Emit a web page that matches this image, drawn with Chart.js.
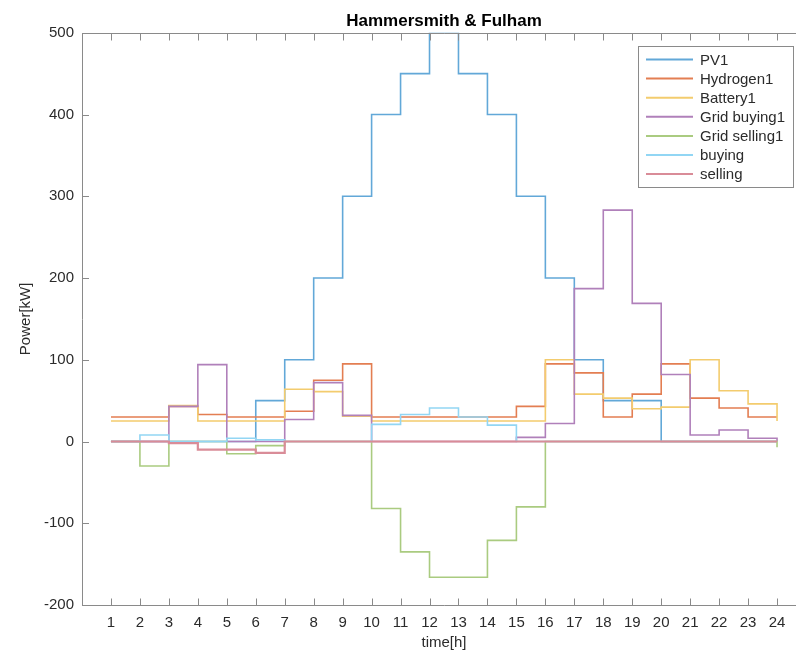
<!DOCTYPE html>
<html>
<head>
<meta charset="utf-8">
<title>Hammersmith & Fulham</title>
<script src="https://cdn.jsdelivr.net/npm/chart.js@4.4.1/dist/chart.umd.min.js"></script>
<style>
    html, body { margin: 0; padding: 0; background: #ffffff; overflow: hidden; }
    #wrap { position: relative; width: 812px; height: 654px; }
</style>
</head>
<body>
<div id="wrap"><canvas id="power-chart"></canvas></div>
<script>
// Hourly power per source, drawn as stairs
const hours = [1, 2, 3, 4, 5, 6, 7, 8, 9, 10, 11, 12, 13, 14, 15, 16, 17, 18, 19, 20, 21, 22, 23, 24];

const pv1         = [0, 0, 0, 0, 0, 50, 100, 200, 300, 400, 450, 500, 450, 400, 300, 200, 100, 50, 50, 0, 0, 0, 0, 0];
const hydrogen1   = [30, 30, 43, 33, 30, 30, 37, 75, 95, 30, 30, 30, 30, 30, 43, 95, 84, 30, 58, 95, 53, 41, 30, 30];
const battery1    = [25, 25, 44, 25, 25, 25, 64, 61, 31, 25, 25, 25, 25, 25, 25, 100, 58, 53, 40, 42, 100, 62, 46, 25];
const gridBuying1 = [0, 0, 43, 94, 0, 0, 27, 72, 32, 0, 0, 0, 0, 0, 5, 22, 187, 283, 169, 82, 8, 14, 4, 0];
const gridSelling1 = [0, -30, 0, 0, -15, -5, 0, 0, 0, -82, -135, -166, -166, -121, -80, 0, 0, 0, 0, 0, 0, 0, 0, -7];
const buying      = [0, 8, 0, 0, 4, 2, 0, 0, 0, 21, 33, 41, 30, 20, 0, 0, 0, 0, 0, 0, 0, 0, 0, 0];
const selling     = [0, 0, -2, -10, -10, -14, 0, 0, 0, 0, 0, 0, 0, 0, 0, 0, 0, 0, 0, 0, 0, 0, 0, 0];

const seriesLabels = ['PV1', 'Hydrogen1', 'Battery1', 'Grid buying1', 'Grid selling1', 'buying', 'selling'];
const seriesValues = [pv1, hydrogen1, battery1, gridBuying1, gridSelling1, buying, selling];
// default MATLAB line order, washed out a little
const seriesColors = ['#62a8d8', '#e37e52', '#f3cc6e', '#b080ba', '#aacb80', '#92d6f4', '#d98c98'];
const seriesWidths = [1.6, 1.6, 1.6, 1.6, 1.6, 1.6, 2.2];

const xTicks = hours;
const yTicks = [-200, -100, 0, 100, 200, 300, 400, 500];

const axisColor = '#8a8a8a';
const textColor = '#2b2b2b';
const fontFamily = '"Liberation Sans", Arial, Helvetica, sans-serif';

// Build the datasets; later series are drawn on top, like stairs() does
const datasets = seriesLabels.map(function(label, i) {
    return {
        label: label,
        data: hours.map(function(h, k) { return { x: h, y: seriesValues[i][k] }; }),
        borderColor: seriesColors[i],
        backgroundColor: seriesColors[i],
        borderWidth: seriesWidths[i],
        pointRadius: 0,
        stepped: 'before',
        fill: false,
        order: seriesLabels.length - i
    };
});

// Box with inward ticks, title and legend inside the plot
const axesPlugin = {
    id: 'axesBox',
    afterDraw: function(chart) {
        const ctx = chart.ctx;
        const area = chart.chartArea;
        const xs = chart.scales.x;
        const ys = chart.scales.y;
        const tickLen = 7;
        const top = Math.round(area.top) + 0.5;
        const bottom = Math.round(area.bottom) + 0.5;

        ctx.save();
        ctx.strokeStyle = axisColor;
        ctx.lineWidth = 1;
        ctx.beginPath();
        ctx.moveTo(area.right, top);
        ctx.lineTo(area.left + 0.5, top);
        ctx.lineTo(area.left + 0.5, bottom);
        ctx.lineTo(area.right, bottom);
        xTicks.forEach(function(t) {
            const px = Math.round(xs.getPixelForValue(t)) + 0.5;
            ctx.moveTo(px, bottom);
            ctx.lineTo(px, bottom - tickLen);
            ctx.moveTo(px, top);
            ctx.lineTo(px, top + tickLen);
        });
        yTicks.forEach(function(t) {
            const py = Math.round(ys.getPixelForValue(t)) + 0.5;
            ctx.moveTo(area.left, py);
            ctx.lineTo(area.left + tickLen, py);
        });
        ctx.stroke();

        // title over the plot box
        ctx.fillStyle = '#000000';
        ctx.font = 'bold 17px ' + fontFamily;
        ctx.textAlign = 'center';
        ctx.textBaseline = 'middle';
        ctx.fillText('Hammersmith & Fulham', (area.left + area.right) / 2, 21);

        // legend, top right
        const lx = 638, ly = 46, lw = 155, lh = 141;
        ctx.fillStyle = '#ffffff';
        ctx.fillRect(lx, ly, lw, lh);
        ctx.strokeStyle = axisColor;
        ctx.strokeRect(lx + 0.5, ly + 0.5, lw, lh);
        ctx.font = '15px ' + fontFamily;
        ctx.textAlign = 'left';
        chart.data.datasets.forEach(function(ds, i) {
            const y = 59.5 + i * 19.1;
            ctx.strokeStyle = ds.borderColor;
            ctx.lineWidth = 2;
            ctx.beginPath();
            ctx.moveTo(646, y);
            ctx.lineTo(693, y);
            ctx.stroke();
            ctx.fillStyle = textColor;
            ctx.fillText(ds.label, 700, y + 1);
        });
        ctx.restore();
    }
};

const config = {
    type: 'line',
    data: { datasets: datasets },
    options: {
        responsive: true,
        maintainAspectRatio: false,
        animation: false,
        layout: {
            // 32.75 puts the zero line on a pixel centre
            padding: { top: 32.75, right: 6, bottom: 0, left: 0 }
        },
        plugins: {
            legend: { display: false },
            tooltip: { enabled: false },
            title: { display: false }
        },
        scales: {
            x: {
                type: 'linear',
                min: 0,
                max: 25,
                afterBuildTicks: function(scale) {
                    scale.ticks = xTicks.map(function(v) { return { value: v }; });
                },
                afterFit: function(scale) { scale.height = 49; },
                grid: { display: false, drawTicks: false },
                border: { display: false },
                ticks: {
                    color: textColor,
                    padding: 9,
                    maxRotation: 0,
                    autoSkip: false,
                    font: { family: fontFamily, size: 15 }
                },
                title: {
                    display: true,
                    text: 'time[h]',
                    color: textColor,
                    padding: { top: 0, bottom: 2 },
                    font: { family: fontFamily, size: 15 }
                }
            },
            y: {
                min: -200,
                max: 500,
                afterBuildTicks: function(scale) {
                    scale.ticks = yTicks.map(function(v) { return { value: v }; });
                },
                afterFit: function(scale) { scale.width = 82; },
                grid: { display: false, drawTicks: false },
                border: { display: false },
                ticks: {
                    color: textColor,
                    padding: 8,
                    font: { family: fontFamily, size: 15 }
                },
                title: {
                    display: true,
                    text: 'Power[kW]',
                    color: textColor,
                    padding: { top: 17, bottom: 0 },
                    font: { family: fontFamily, size: 15 }
                }
            }
        }
    },
    plugins: [axesPlugin]
};

new Chart(document.getElementById('power-chart').getContext('2d'), config);
</script>
</body>
</html>
